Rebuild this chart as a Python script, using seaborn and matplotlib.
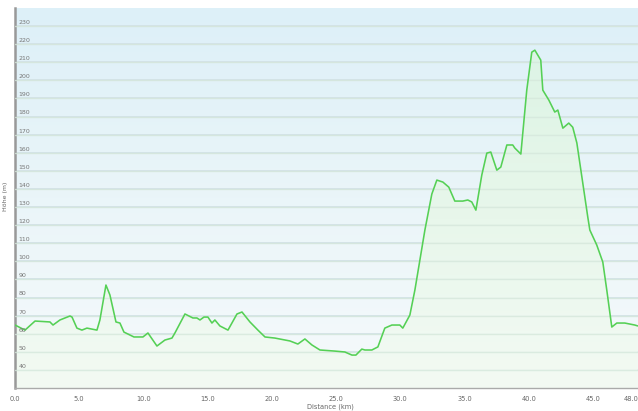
import numpy as np
import matplotlib
matplotlib.use("Agg")
import matplotlib.pyplot as plt
import matplotlib.transforms as mtransforms
from matplotlib.colors import LinearSegmentedColormap
import seaborn as sns
import pandas as pd

sns.set_theme(style="white")
plt.rcParams['font.family'] = ['DejaVu Sans']

# Distance along the route (km)
distance_km = [0.0, 0.78, 1.56, 2.72, 2.96, 3.50, 4.28, 4.44, 4.82, 5.21, 5.60, 6.38,
               6.61, 7.08, 7.39, 7.86, 8.17, 8.48, 9.26, 9.96, 10.35, 11.05, 11.67,
               12.22, 12.45, 13.23, 13.85, 14.16, 14.40, 14.71, 15.02, 15.33, 15.56,
               15.95, 16.58, 17.28, 17.67, 18.29, 18.91, 19.46, 20.23, 21.40, 22.02,
               22.57, 23.11, 23.74, 24.90, 25.68, 26.23, 26.54, 27.00, 27.24, 27.78,
               28.25, 28.79, 29.34, 29.96, 30.19, 30.74, 31.13, 31.91, 32.45, 32.84,
               33.31, 33.77, 34.24, 34.86, 35.25, 35.56, 35.88, 36.34, 36.73, 37.04,
               37.51, 37.82, 38.29, 38.75, 38.91, 39.38, 39.84, 40.23, 40.47, 40.93,
               41.09, 41.56, 42.02, 42.26, 42.65, 43.11, 43.42, 43.74, 44.20, 44.59,
               44.75, 45.29, 45.76, 46.07, 46.46, 46.85, 47.47, 48.25, 48.48]
# Elevation (m)
elevation_m = [64.8, 62.0, 67.0, 66.5, 64.8, 67.6, 69.8, 69.2, 63.1, 62.0, 63.1, 62.0,
               67.6, 86.9, 81.4, 66.5, 65.9, 60.9, 58.2, 58.2, 60.4, 53.2, 56.5,
               57.6, 60.4, 70.9, 68.7, 68.7, 67.6, 69.2, 69.2, 65.9, 67.6,
               64.3, 62.0, 70.9, 72.0, 66.5, 62.0, 58.2, 57.6, 56.0, 54.3,
               57.1, 53.8, 51.0, 50.4, 49.9, 48.2, 48.2, 51.5, 51.0, 51.0,
               52.7, 63.1, 64.8, 64.8, 63.1, 70.3, 84.1, 117.3, 137.2, 144.9,
               143.8, 141.0, 133.3, 133.3, 133.9, 132.8, 128.3, 147.7, 159.8, 160.4,
               150.4, 152.1, 164.3, 164.3, 162.6, 159.3, 194.6, 215.6, 216.7, 211.2,
               194.6, 189.1, 182.5, 183.6, 173.6, 176.4, 174.1, 165.4, 143.3, 124.5,
               117.3, 109.0, 99.6, 84.1, 63.7, 65.9, 65.9, 64.8, 64.3]

y_ticks = list(range(40, 240, 10))
x_ticks = [0.0, 5.0, 10.0, 15.0, 20.0, 25.0, 30.0, 35.0, 40.0, 45.0, 48.0]
x_label = "Distance (km)"
y_label = "Höhe (m)"

df = pd.DataFrame({"dist": distance_km, "elev": elevation_m})

W, H = 638, 411
fig = plt.figure(figsize=(W / 100, H / 100), dpi=100)
fig.patch.set_facecolor("white")
ax = fig.add_axes([15 / W, (411 - 388) / H, (W - 15) / W, (388 - 8) / H])

xmin, xmax, ymin, ymax = 0.0, 48.5, 30, 240
ax.set_xlim(xmin, xmax)
ax.set_ylim(ymin, ymax)

# background gradient (light blue top -> near white bottom)
bg_cmap = LinearSegmentedColormap.from_list("bg", ["#f6fafb", "#eaf5f9", "#ddf0f8"])
grad = np.linspace(0, 1, 256).reshape(-1, 1)
ax.imshow(grad, cmap=bg_cmap, aspect="auto", origin="lower",
          extent=[xmin, xmax, ymin, ymax], zorder=0)

# grid lines
for v in y_ticks:
    ax.axhline(v, color="#d2e2e8", lw=1.3, zorder=1)

# green gradient fill under the curve
fill_cmap = LinearSegmentedColormap.from_list("fill", ["#f3fbf3", "#e8f8ea", "#ddf5e4"])
fill_img = ax.imshow(grad, cmap=fill_cmap, aspect="auto", origin="lower",
                     extent=[xmin, xmax, ymin, max(elevation_m)], zorder=2, alpha=0.9)
poly = ax.fill_between(df["dist"], df["elev"], ymin, color="none", lw=0)
path = poly.get_paths()[0]
fill_img.set_clip_path(path, transform=ax.transData)

# faint grid over fill
for v in y_ticks:
    ax.axhline(v, color="#d6e8dc", lw=1.0, zorder=3, alpha=0.8)

sns.lineplot(data=df, x="dist", y="elev", ax=ax, color="#55d055", lw=1.15, zorder=5)

# y tick labels inside the plot
ax.set_yticks([])
trans = mtransforms.blended_transform_factory(ax.transAxes, ax.transData)
for v in y_ticks:
    ax.text(0.006, v + 0.6, str(v), transform=trans, fontsize=4.5, color="#777777",
            ha="left", va="bottom", zorder=6)

ax.set_xticks(x_ticks)
ax.set_xticklabels([f"{t:.1f}" for t in x_ticks], fontsize=4.8, color="#666666")
ax.tick_params(axis="x", direction="out", length=2.5, width=0.8, color="#999999", pad=3)
ax.set_xlabel("")
ax.set_ylabel("")

for s in ["top", "right"]:
    ax.spines[s].set_visible(False)
ax.spines["left"].set_color("#999999")
ax.spines["left"].set_linewidth(1.8)
ax.spines["bottom"].set_color("#aaaaaa")
ax.spines["bottom"].set_linewidth(1.0)

fig.text(330 / W, 1 - 407 / H, x_label, fontsize=4.8, color="#666666",
         ha="center", va="center")
fig.text(6 / W, 1 - 196 / H, y_label, fontsize=4.5, color="#666666",
         ha="center", va="center", rotation=90)

fig.savefig("out.png", dpi=100)
